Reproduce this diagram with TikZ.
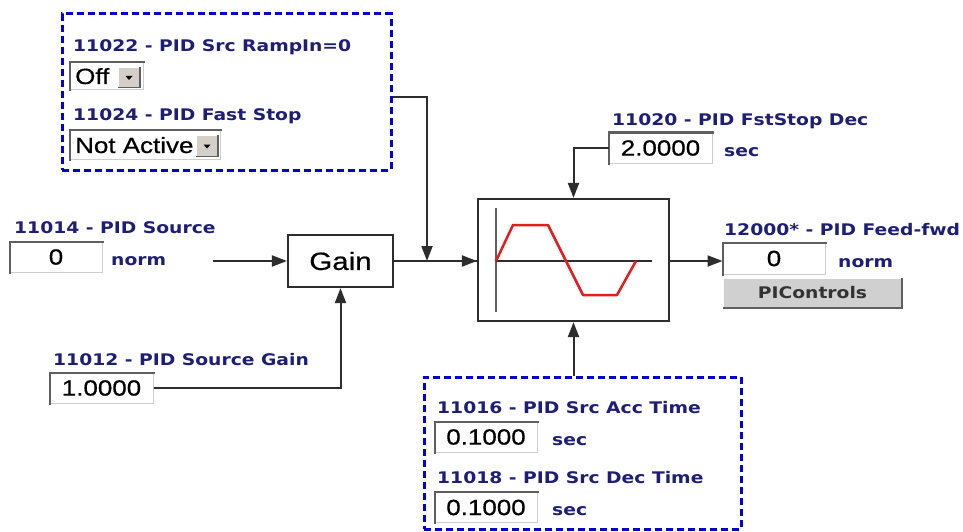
\documentclass[tikz,border=0pt]{standalone}
\usepackage{fontspec}
\usetikzlibrary{arrows.meta,calc}
\newfontfamily\labfont{DejaVu Sans}[FakeStretch=1.17]
\newfontfamily\valfont{Liberation Sans}[FakeStretch=1.18,FakeBold=0.6]
\definecolor{labblue}{RGB}{30,30,120}
\definecolor{dashblue}{RGB}{0,0,210}
\definecolor{lineg}{RGB}{45,45,45}
\definecolor{fieldlight}{RGB}{205,205,205}
\definecolor{fielddark}{RGB}{95,95,95}
\definecolor{btngray}{RGB}{212,208,200}
\definecolor{pigray}{RGB}{208,208,208}
\definecolor{rampred}{RGB}{225,30,30}
\newcommand\sunkfield[1]{\draw[fielddark,line width=2pt,line cap=rect] (#1.south west) -- (#1.north west) -- (#1.north east);}
\newcommand\raisedbtn[1]{\draw[white,line width=1.5pt] (#1.south west) -- (#1.north west) -- (#1.north east);
  \draw[fielddark,line width=1.5pt] (#1.north east) -- (#1.south east) -- (#1.south west);}
\begin{document}
\begin{tikzpicture}[x=1pt,y=-1pt,
  lab/.style={anchor=base west, inner sep=0pt, font=\labfont\bfseries\fontsize{16}{16}\selectfont, text=labblue},
  field/.style={draw=fieldlight, line width=1pt, fill=white, inner sep=0pt, font=\valfont\fontsize{22}{22}\selectfont, text=black},
  ddtext/.style={anchor=base west, inner sep=0pt, font=\valfont\fontsize{22}{22}\selectfont, text=black},
  ddbtn/.style={fill=btngray, inner sep=0pt},
  dashbox/.style={draw=dashblue, line width=3pt, dash pattern=on 7pt off 4pt, inner sep=0pt},
  block/.style={draw=lineg, line width=2.2pt, fill=white, inner sep=0pt},
  conn/.style={draw=lineg, line width=2pt},
  arr/.style={conn, -{Triangle[length=15pt,width=11pt]}}
]
\useasboundingbox[fill=white] (0,0) rectangle (963,532);

% ---------- top group ----------
\node[dashbox, minimum width=329pt, minimum height=156pt] (grpA) at (226.5,92) {};
\node[lab] (lRamp) at (73,52) {11022 - PID Src RampIn=0};
\node[field, minimum width=73pt, minimum height=27pt] (ddA) at (106.5,76.5) {};
\sunkfield{ddA}
\node[ddtext] (ddAt) at (75,84) {Off};
\node[ddbtn, minimum width=22pt, minimum height=20pt] (btnA) at (129,77.5) {};
\raisedbtn{btnA}
\fill ($(btnA.center)+(-3.5,-1.5)$) -- ++(7,0) -- ++(-3.5,4) -- cycle;

\node[lab] (lFast) at (73,121) {11024 - PID Fast Stop};
\node[field, minimum width=150pt, minimum height=29pt] (ddB) at (145,145) {};
\sunkfield{ddB}
\node[ddtext] (ddBt) at (75,153) {Not Active};
\node[ddbtn, minimum width=22pt, minimum height=21pt] (btnB) at (207,146) {};
\raisedbtn{btnB}
\fill ($(btnB.center)+(-3.5,-1.5)$) -- ++(7,0) -- ++(-3.5,4) -- cycle;

% ---------- source ----------
\node[lab] (lSrc) at (14,233) {11014 - PID Source};
\node[field, minimum width=92pt, minimum height=30pt] (srcF) at (56,257) {0};
\sunkfield{srcF}
\node[lab] (uSrc) at (111,265) {norm};
\coordinate (srcOut) at (213,261);

% ---------- gain ----------
\node[block, minimum width=105pt, minimum height=52pt, font=\valfont\fontsize{25}{25}\selectfont] (gain) at (340.5,261) {Gain};

\node[lab] (lGain) at (53,365) {11012 - PID Source Gain};
\node[field, minimum width=103pt, minimum height=30pt] (gainF) at (101.5,388) {1.0000};
\sunkfield{gainF}

% ---------- ramp ----------
\node[block, minimum width=191pt, minimum height=122pt] (ramp) at (573.5,260) {};
\draw[fielddark, line width=2.2pt] (496,208) -- (496,312);
\draw[lineg, line width=1.6pt] (496,261) -- (652,261);
\draw[rampred, line width=2.5pt, line join=round] (496,261) -- (513,225) -- (548,225) -- (583,295) -- (617,295) -- (636,261);

% ---------- fast stop dec ----------
\node[lab] (lFsd) at (612,125) {11020 - PID FstStop Dec};
\node[field, minimum width=103pt, minimum height=30pt] (fstF) at (660.5,148) {2.0000};
\sunkfield{fstF}
\node[lab] (uFsd) at (724,157) {sec};

% ---------- feed forward ----------
\node[lab] (lFf) at (724,235) {12000* - PID Feed-fwd};
\node[field, minimum width=102pt, minimum height=31pt] (ffF) at (774,258.5) {0};
\sunkfield{ffF}
\node[lab] (uFf) at (838,267) {norm};
\node[fill=pigray, minimum width=179pt, minimum height=30pt, inner sep=0pt,
      font=\labfont\bfseries\fontsize{16}{16}\selectfont, text=black!80] (piBtn) at (812.5,293) {PIControls};
\raisedbtn{piBtn}

% ---------- bottom group ----------
\node[dashbox, minimum width=317pt, minimum height=152pt] (grpB) at (582.5,453) {};
\node[lab] (lAcc) at (437,413) {11016 - PID Src Acc Time};
\node[field, minimum width=102pt, minimum height=30pt] (accF) at (486,437) {0.1000};
\sunkfield{accF}
\node[lab] (uAcc) at (552,445) {sec};
\node[lab] (lDec) at (437,483) {11018 - PID Src Dec Time};
\node[field, minimum width=102pt, minimum height=30pt] (decF) at (486,507.5) {0.1000};
\sunkfield{decF}
\node[lab] (uDec) at (552,515) {sec};

% ---------- connectors ----------
\coordinate (grpAout) at (grpA.east |- 0,97);
\coordinate (joinA) at (427,261);
\draw[arr] (srcOut) -- (gain.west);
\draw[arr] (gainF.east) -| (gain.south);
\draw[conn] (gain.east) -- (ramp.west |- gain.east);
\draw[arr] (gain.east -| ramp.west) ++(-20,0) -- (ramp.west |- gain.east);
\draw[arr] (grpAout) -| (joinA);
\draw[arr] (fstF.west) -| (ramp.north);
\draw[arr] (ramp.east |- gain.east) -- (ffF.west |- gain.east);
\draw[arr] (grpB.north -| ramp.south) -- (ramp.south);
\end{tikzpicture}
\end{document}
